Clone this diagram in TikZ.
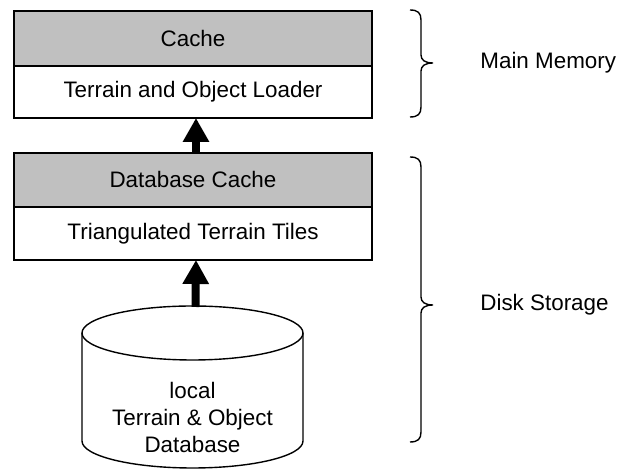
\documentclass[tikz,border=0pt]{standalone}
\usepackage{fontspec}
\setmainfont{Liberation Sans}
\usetikzlibrary{arrows.meta}
\definecolor{boxgray}{RGB}{192,192,192}
\tikzset{
  layer/.style={draw, line width=0.7pt, inner sep=0pt, outer sep=0pt, minimum width=179pt, font=\fontsize{11.2}{13.5}\selectfont},
  graylayer/.style={layer, fill=boxgray},
  bigarrow/.style={line width=4pt, -{Triangle[length=12pt,width=12.5pt]}},
  brace/.style={line width=0.7pt},
  lbl/.style={anchor=west, inner sep=0pt, font=\fontsize{11.2}{13.5}\selectfont},
}
\begin{document}
\begin{tikzpicture}[x=0.5pt,y=-0.5pt]
\useasboundingbox (0,0) rectangle (618,469);
% top group
\node[graylayer, minimum height=27.5pt] (cache) at (193,38.5) {Cache};
\node[layer, minimum height=26pt] (loader) at (193,92) {Terrain and Object Loader};
% second group
\node[graylayer, minimum height=27pt] (dbcache) at (193,180) {Database Cache};
\node[layer, minimum height=26.5pt] (tiles) at (193,233.5) {Triangulated Terrain Tiles};
% cylinder
\node[inner sep=0pt, outer sep=0pt, minimum width=110.5pt, minimum height=80.5pt] (db) at (192.5,387.5) {};
\draw[line width=0.7pt, fill=white] (82,333) -- (82,441) arc[start angle=180, end angle=0, x radius=110.5, y radius=27] -- (303,333);
\draw[line width=0.7pt] (192.5,333) ellipse [x radius=110.5, y radius=27];
\node[align=center, font=\fontsize{11.2}{13.5}\selectfont] (dblabel) at (192.5,418) {local\\Terrain \& Object\\Database};
% arrows
\draw[bigarrow] ([xshift=1.5pt]dbcache.north) -- ([xshift=1.5pt]loader.south);
\draw[bigarrow] ([xshift=1.5pt]db.north) -- ([xshift=1.5pt]tiles.south);
% braces
\draw[brace] (410,10) .. controls (418,10) and (421,13) .. (421,20) -- (421,55) .. controls (421,60) and (425,63) .. (433,63) .. controls (425,63) and (421,66) .. (421,71) -- (421,107) .. controls (421,114) and (418,117) .. (410,117);
\draw[brace] (410,157) .. controls (418,157) and (421,160) .. (421,167) -- (421,297) .. controls (421,302) and (425,305) .. (433,305) .. controls (425,305) and (421,308) .. (421,313) -- (421,432) .. controls (421,439) and (418,442) .. (410,442);
\node[lbl] (mm) at (480,63) {Main Memory};
\node[lbl] (ds) at (480,305) {Disk Storage};
\end{tikzpicture}
\end{document}
